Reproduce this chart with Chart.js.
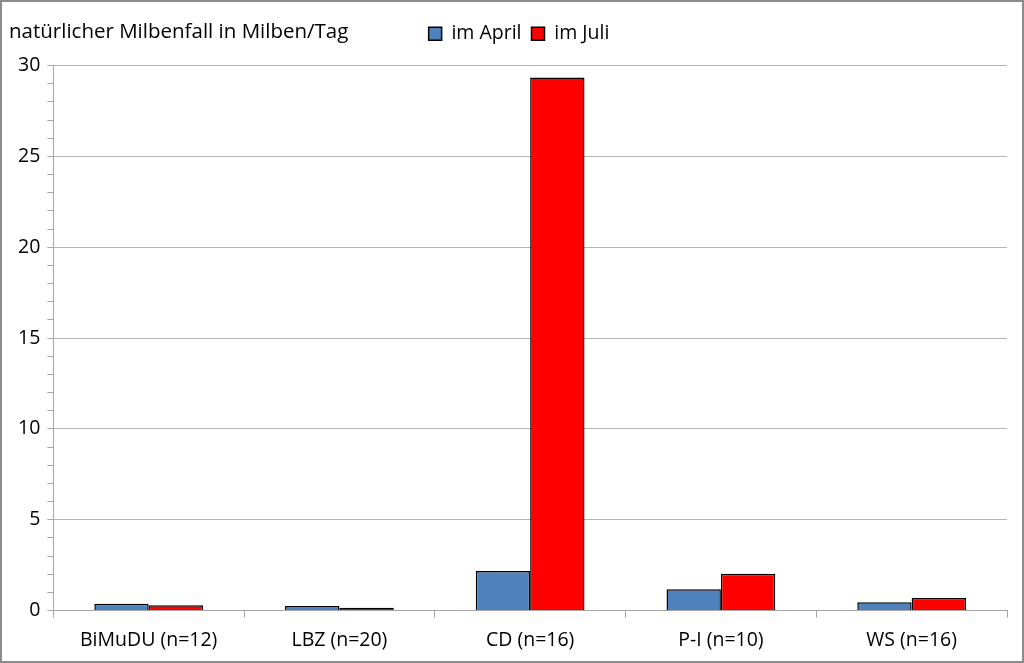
<!DOCTYPE html>
<html>
<head>
<meta charset="utf-8">
<script src="https://cdn.jsdelivr.net/npm/chart.js@4"></script>
<style>
  html, body { margin: 0; padding: 0; background: #fff; }
  #wrap { width: 1024px; height: 663px; }
</style>
</head>
<body>
<div id="wrap"><canvas id="myChart" width="1024" height="663"></canvas></div>
<script>
const categories = ["BiMuDU (n=12)", "LBZ (n=20)", "CD (n=16)", "P-I (n=10)", "WS (n=16)"];
const april = [0.38, 0.26, 2.18, 1.17, 0.46];
const juli = [0.30, 0.15, 29.34, 2.03, 0.70];
const seriesNames = ["im April", "im Juli"];
const yTitle = "natürlicher Milbenfall in Milben/Tag";

const FONT = "'Open Sans', 'Noto Sans', sans-serif";

const ctx = document.getElementById("myChart");

// title text top-left and grey frame around the picture
const decor = {
  id: "decor",
  beforeInit(chart) {
    const fitValue = chart.legend.fit;
    chart.legend.fit = function fit() {
      fitValue.bind(chart.legend)();
      return (this.height += 12);
    };
  },
  afterLayout(chart) {
    // legend sits a bit right of centre in the original
    chart.legend.left += 10;
    chart.legend.right += 10;
  },
  afterDraw(chart) {
    const c = chart.ctx;
    c.save();
    c.fillStyle = "#000";
    c.font = "20.5px " + FONT;
    c.textBaseline = "middle";
    c.textAlign = "left";
    c.fillText(yTitle, 9, 32);
    c.strokeStyle = "#8c8c8c";
    c.lineWidth = 2;
    c.strokeRect(1, 1, chart.width - 2, chart.height - 2);
    c.restore();
  },
};

const chart = new Chart(ctx, {
  type: "bar",
  data: {
    labels: categories,
    datasets: [
      {
        label: seriesNames[0],
        data: april,
        backgroundColor: "#4f81bd",
        borderColor: "#000",
        borderWidth: 1.5,
        categoryPercentage: 0.57,
        barPercentage: 1.0,
      },
      {
        label: seriesNames[1],
        data: juli,
        backgroundColor: "#ff0000",
        borderColor: "#000",
        borderWidth: 1.5,
        categoryPercentage: 0.57,
        barPercentage: 1.0,
      },
    ],
  },
  options: {
    responsive: false,
    animation: false,
    layout: {
      padding: { top: 14, right: 17, bottom: 0, left: 11 },
    },
    plugins: {
      tooltip: { enabled: false },
      legend: {
        position: "top",
        align: "center",
        labels: {
          boxWidth: 13,
          boxHeight: 13,
          padding: 10,
          color: "#000",
          font: { size: 19.5, family: FONT },
        },
      },
    },
    scales: {
      x: {
        offset: true,
        grid: {
          offset: true,
          drawOnChartArea: false,
          color: "#a6a6a6",
          tickLength: 7,
        },
        border: { color: "#a6a6a6" },
        ticks: {
          color: "#000",
          padding: 11,
          font: { size: 19.5, family: FONT },
        },
      },
      y: {
        min: 0,
        max: 30,
        grid: {
          color: (c) => (c.tick && c.tick.value % 5 === 0 ? "#b4b4b4" : "rgba(0,0,0,0)"),
          tickColor: "#a6a6a6",
          tickLength: 6,
        },
        border: { color: "#a6a6a6" },
        ticks: {
          stepSize: 1,
          autoSkip: false,
          color: "#000",
          padding: 7,
          font: { size: 19.5, family: FONT },
          callback: (v) => (v % 5 === 0 ? v : ""),
        },
      },
    },
  },
  plugins: [decor],
});
</script>
</body>
</html>
